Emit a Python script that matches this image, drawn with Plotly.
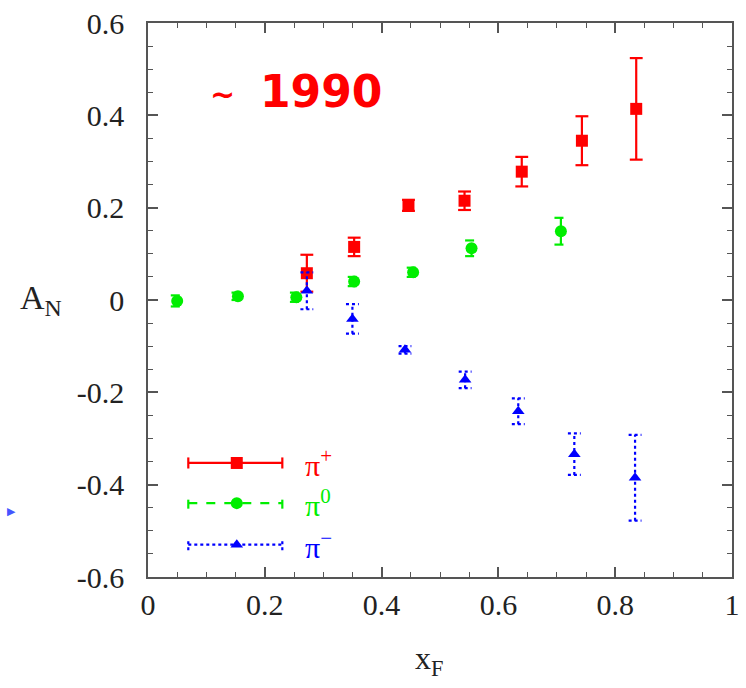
import plotly.graph_objects as go

# ---- data ----
xf_pip = [0.272, 0.353, 0.446, 0.542, 0.640, 0.743, 0.836]
an_pip = [0.058, 0.115, 0.205, 0.215, 0.278, 0.345, 0.414]
er_pip = [0.040, 0.020, 0.012, 0.020, 0.032, 0.053, 0.110]

xf_pi0 = [0.050, 0.154, 0.254, 0.353, 0.454, 0.554, 0.707]
an_pi0 = [-0.002, 0.008, 0.006, 0.040, 0.060, 0.112, 0.149]
er_pi0 = [0.012, 0.008, 0.010, 0.010, 0.010, 0.017, 0.029]

xf_pim = [0.272, 0.350, 0.440, 0.543, 0.634, 0.730, 0.834]
an_pim = [0.020, -0.041, -0.108, -0.173, -0.241, -0.334, -0.385]
er_pim = [0.040, 0.032, 0.008, 0.018, 0.028, 0.045, 0.093]

x_ticks = [0, 0.2, 0.4, 0.6, 0.8, 1.0]
x_ticklabels = ["0", "0.2", "0.4", "0.6", "0.8", "1"]
y_ticks = [-0.6, -0.4, -0.2, 0, 0.2, 0.4, 0.6]
y_ticklabels = ["-0.6", "-0.4", "-0.2", "0", "0.2", "0.4", "0.6"]

series_names = ["π<sup>+</sup>", "π<sup>0</sup>", "π<sup>−</sup>"]
colors = ["#ff0000", "#00ee00", "#0000ff"]
dashes = ["solid", "dash", "dot"]
symbols = ["square", "circle", "triangle-up"]
sizes = [12, 12, 11]

# legend glyph placement (data coords)
leg_x = [0.069, 0.152, 0.230]
leg_y = [-0.353, -0.440, -0.530]
leg_text_x = 0.265

CAP = 0.011

fig = go.Figure()


def err_segments(xs, ys, es):
    sx, sy = [], []
    for x, y, e in zip(xs, ys, es):
        sx += [x, x, None, x - CAP, x + CAP, None, x - CAP, x + CAP, None]
        sy += [y - e, y + e, None, y - e, y - e, None, y + e, y + e, None]
    return sx, sy


all_series = [(xf_pip, an_pip, er_pip), (xf_pi0, an_pi0, er_pi0), (xf_pim, an_pim, er_pim)]
for i, (xs, ys, es) in enumerate(all_series):
    sx, sy = err_segments(xs, ys, es)
    fig.add_trace(go.Scatter(x=sx, y=sy, mode="lines",
                             line=dict(color=colors[i], width=2.2, dash=dashes[i]),
                             hoverinfo="skip", showlegend=False))
    fig.add_trace(go.Scatter(x=xs, y=ys, mode="markers",
                             marker=dict(symbol=symbols[i], size=sizes[i], color=colors[i],
                                         line=dict(width=0)),
                             showlegend=False))

# hand-drawn legend (horizontal error-bar glyphs)
for i in range(3):
    lx0, lxm, lx1 = leg_x
    y = leg_y[i]
    capy = 0.012
    fig.add_trace(go.Scatter(
        x=[lx0, lx1, None, lx0, lx0, None, lx1, lx1],
        y=[y, y, None, y - capy, y + capy, None, y - capy, y + capy],
        mode="lines", line=dict(color=colors[i], width=2.2, dash=dashes[i]),
        hoverinfo="skip", showlegend=False))
    fig.add_trace(go.Scatter(x=[lxm], y=[y], mode="markers",
                             marker=dict(symbol=symbols[i], size=sizes[i], color=colors[i]),
                             showlegend=False))
    fig.add_annotation(x=leg_text_x, y=y, xref="x", yref="y", text=series_names[i],
                       showarrow=False, xanchor="left", yanchor="middle",
                       font=dict(family="Liberation Serif", size=30, color=colors[i]))

axis_common = dict(
    showline=True, linecolor="#555555", linewidth=1.5, mirror="ticks",
    ticks="inside", ticklen=10, tickwidth=1.5, tickcolor="#555555",
    showgrid=False, zeroline=False,
    tickfont=dict(family="Liberation Serif", size=30, color="#222222"),
)

fig.update_xaxes(range=[0, 1], tickvals=x_ticks, ticktext=x_ticklabels,
                 minor=dict(dtick=0.05, ticks="inside", ticklen=5, tickcolor="#555555", tickwidth=1.2),
                 ticklabelstandoff=0, **axis_common)
fig.update_yaxes(range=[-0.6, 0.6], tickvals=y_ticks, ticktext=y_ticklabels,
                 minor=dict(dtick=0.05, ticks="inside", ticklen=5, tickcolor="#555555", tickwidth=1.2),
                 ticklabelstandoff=16, **axis_common)

# axis titles (paper coords are relative to the plot area)
fig.add_annotation(x=-0.222, y=0.5, xref="paper", yref="paper",
                   xanchor="left", yanchor="middle", showarrow=False,
                   text="A<sub>N</sub>",
                   font=dict(family="Liberation Serif", size=34, color="#222222"))
fig.add_annotation(x=0.481, y=-0.15, xref="paper", yref="paper",
                   xanchor="center", yanchor="middle", showarrow=False,
                   text="x<sub>F</sub>",
                   font=dict(family="Liberation Serif", size=32, color="#222222"))

# "~ 1990" label
fig.add_annotation(x=0.127, y=0.445, xref="x", yref="y", xanchor="center", yanchor="middle",
                   showarrow=False, text="<b>~</b>",
                   font=dict(family="DejaVu Sans", size=30, color="#ff0000"))
fig.add_annotation(x=0.189, y=0.452, xref="x", yref="y", xanchor="left", yanchor="middle",
                   showarrow=False, text="<b>1990</b>",
                   font=dict(family="DejaVu Sans", size=44, color="#ff0000"))

# stray blue marker outside the plot
fig.add_annotation(x=-0.233, y=0.118, xref="paper", yref="paper", xanchor="center", yanchor="middle",
                   showarrow=False, text="▶",
                   font=dict(family="DejaVu Sans", size=11, color="#4455ff"))

fig.update_layout(
    width=746, height=688,
    margin=dict(l=148, r=6, t=20, b=111),
    plot_bgcolor="white", paper_bgcolor="white",
    showlegend=False,
)

fig.write_html("out.html")
